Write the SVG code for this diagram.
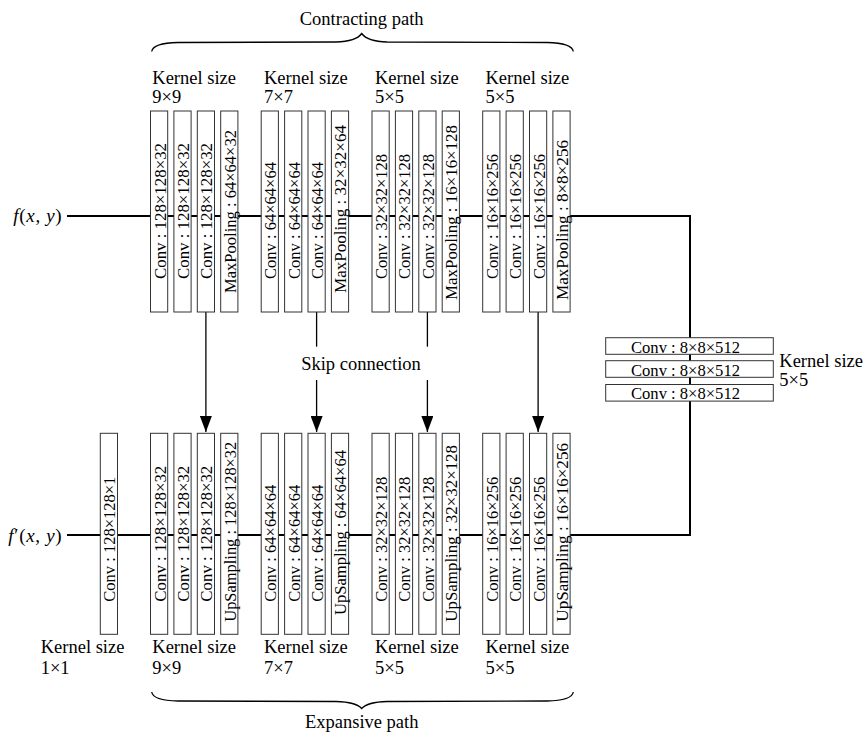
<svg xmlns="http://www.w3.org/2000/svg" width="865" height="732" viewBox="0 0 865 732">
<defs>
<style>
text{font-family:"Liberation Serif","Times New Roman",serif;fill:#000}
.lbl{font-size:18.5px}
.bx{fill:#fff;stroke:#333;stroke-width:1}
.bt{font-size:17px}
.main{fill:none;stroke:#000;stroke-width:2}
.skip{fill:none;stroke:#000;stroke-width:1.3}
.brace{fill:none;stroke:#000;stroke-width:1.3}
.it{font-style:italic}
</style>
<marker id="ah" markerUnits="userSpaceOnUse" markerWidth="16" markerHeight="12" refX="16" refY="6" orient="auto">
<path d="M0,0 L16,6 L0,12 z" fill="#000"/>
</marker>
</defs>
<rect width="865" height="732" fill="#fff"/>

<g id="connectors">
<path class="main" d="M67,216 H690 V535 H67"/>
<path class="skip" d="M205.9,312 V432" marker-end="url(#ah)"/>
<path class="skip" d="M316.6,312 V346.7"/>
<path class="skip" d="M316.6,380 V432" marker-end="url(#ah)"/>
<path class="skip" d="M427.4,312 V346.7"/>
<path class="skip" d="M427.4,380 V432" marker-end="url(#ah)"/>
<path class="skip" d="M538.1,312 V432" marker-end="url(#ah)"/>
</g>

<g id="labels">
<text class="lbl" x="361.7" y="25" text-anchor="middle">Contracting path</text>
<path class="brace" d="M151.7,51.5 Q153,43 178,42.5 L336,42 Q356,41.5 361.7,33.5 Q367.5,41.5 387,42 L547,42.5 Q572,43 573.3,51.5"/>
<text class="lbl" x="361.7" y="727.5" text-anchor="middle">Expansive path</text>
<path class="brace" d="M151.7,692 Q153,700.5 178,701 L336,701.5 Q356,702 361.7,708.5 Q367.5,702 387,701.5 L547,701 Q572,700.5 573.3,692"/>
<text class="lbl" x="361" y="370" text-anchor="middle">Skip connection</text>
<text x="13.3" y="221.5" font-size="19" textLength="48.4" lengthAdjust="spacing"><tspan class="it">f</tspan>(<tspan class="it">x</tspan>, <tspan class="it">y</tspan>)</text>
<text x="8.3" y="541.5" font-size="19" textLength="53.4" lengthAdjust="spacing"><tspan class="it">f</tspan>′(<tspan class="it">x</tspan>, <tspan class="it">y</tspan>)</text>
<text class="lbl" x="152.3" y="84.3">Kernel size</text><text class="lbl" x="152.3" y="103.3">9×9</text>
<text class="lbl" x="264" y="84.3">Kernel size</text><text class="lbl" x="264" y="103.3">7×7</text>
<text class="lbl" x="375" y="84.3">Kernel size</text><text class="lbl" x="375" y="103.3">5×5</text>
<text class="lbl" x="485.5" y="84.3">Kernel size</text><text class="lbl" x="485.5" y="103.3">5×5</text>
<text class="lbl" x="152.3" y="653.3">Kernel size</text><text class="lbl" x="152.3" y="674">9×9</text>
<text class="lbl" x="264" y="653.3">Kernel size</text><text class="lbl" x="264" y="674">7×7</text>
<text class="lbl" x="375" y="653.3">Kernel size</text><text class="lbl" x="375" y="674">5×5</text>
<text class="lbl" x="485.5" y="653.3">Kernel size</text><text class="lbl" x="485.5" y="674">5×5</text>
<text class="lbl" x="40.7" y="653.3">Kernel size</text><text class="lbl" x="40.7" y="674">1×1</text>
<text class="lbl" x="779.3" y="366.5">Kernel size</text><text class="lbl" x="779.3" y="385.5">5×5</text>
</g>

<!-- top row -->
<g id="e1c1"><rect class="bx" x="150.5" y="111" width="17.2" height="201"/><text class="bt" transform="translate(159.1,279) rotate(-90)" dy="0.38em" textLength="136" lengthAdjust="spacingAndGlyphs">Conv : 128×128×32</text></g>
<g id="e1c2"><rect class="bx" x="173.9" y="111" width="17.2" height="201"/><text class="bt" transform="translate(182.5,279) rotate(-90)" dy="0.38em" textLength="136" lengthAdjust="spacingAndGlyphs">Conv : 128×128×32</text></g>
<g id="e1c3"><rect class="bx" x="197.3" y="111" width="17.2" height="201"/><text class="bt" transform="translate(205.9,279) rotate(-90)" dy="0.38em" textLength="136" lengthAdjust="spacingAndGlyphs">Conv : 128×128×32</text></g>
<g id="e1p"><rect class="bx" x="220.7" y="111" width="17.2" height="201"/><text class="bt" transform="translate(229.3,293) rotate(-90)" dy="0.38em" textLength="163" lengthAdjust="spacingAndGlyphs">MaxPooling : 64×64×32</text></g>

<g id="e2c1"><rect class="bx" x="261.2" y="111" width="17.2" height="201"/><text class="bt" transform="translate(269.8,279) rotate(-90)" dy="0.38em" textLength="117" lengthAdjust="spacingAndGlyphs">Conv : 64×64×64</text></g>
<g id="e2c2"><rect class="bx" x="284.6" y="111" width="17.2" height="201"/><text class="bt" transform="translate(293.2,279) rotate(-90)" dy="0.38em" textLength="117" lengthAdjust="spacingAndGlyphs">Conv : 64×64×64</text></g>
<g id="e2c3"><rect class="bx" x="308" y="111" width="17.2" height="201"/><text class="bt" transform="translate(316.6,279) rotate(-90)" dy="0.38em" textLength="117" lengthAdjust="spacingAndGlyphs">Conv : 64×64×64</text></g>
<g id="e2p"><rect class="bx" x="331.4" y="111" width="17.2" height="201"/><text class="bt" transform="translate(340,293) rotate(-90)" dy="0.38em" textLength="168" lengthAdjust="spacingAndGlyphs">MaxPooling : 32×32×64</text></g>

<g id="e3c1"><rect class="bx" x="372" y="111" width="17.2" height="201"/><text class="bt" transform="translate(380.6,279) rotate(-90)" dy="0.38em" textLength="125" lengthAdjust="spacingAndGlyphs">Conv : 32×32×128</text></g>
<g id="e3c2"><rect class="bx" x="395.4" y="111" width="17.2" height="201"/><text class="bt" transform="translate(404,279) rotate(-90)" dy="0.38em" textLength="125" lengthAdjust="spacingAndGlyphs">Conv : 32×32×128</text></g>
<g id="e3c3"><rect class="bx" x="418.8" y="111" width="17.2" height="201"/><text class="bt" transform="translate(427.4,279) rotate(-90)" dy="0.38em" textLength="125" lengthAdjust="spacingAndGlyphs">Conv : 32×32×128</text></g>
<g id="e3p"><rect class="bx" x="442.2" y="111" width="17.2" height="201"/><text class="bt" transform="translate(450.8,300) rotate(-90)" dy="0.38em" textLength="175" lengthAdjust="spacingAndGlyphs">MaxPooling : 16×16×128</text></g>

<g id="e4c1"><rect class="bx" x="482.7" y="111" width="17.2" height="201"/><text class="bt" transform="translate(491.3,279) rotate(-90)" dy="0.38em" textLength="125" lengthAdjust="spacingAndGlyphs">Conv : 16×16×256</text></g>
<g id="e4c2"><rect class="bx" x="506.1" y="111" width="17.2" height="201"/><text class="bt" transform="translate(514.7,279) rotate(-90)" dy="0.38em" textLength="125" lengthAdjust="spacingAndGlyphs">Conv : 16×16×256</text></g>
<g id="e4c3"><rect class="bx" x="529.5" y="111" width="17.2" height="201"/><text class="bt" transform="translate(538.1,279) rotate(-90)" dy="0.38em" textLength="125" lengthAdjust="spacingAndGlyphs">Conv : 16×16×256</text></g>
<g id="e4p"><rect class="bx" x="552.9" y="111" width="17.2" height="201"/><text class="bt" transform="translate(561.5,300) rotate(-90)" dy="0.38em" textLength="160" lengthAdjust="spacingAndGlyphs">MaxPooling : 8×8×256</text></g>

<!-- bottleneck -->
<g id="b1"><rect class="bx" x="605.7" y="337.7" width="167.6" height="16.6"/><text class="bt" x="685.5" y="352.5" text-anchor="middle" textLength="109" lengthAdjust="spacingAndGlyphs">Conv : 8×8×512</text></g>
<g id="b2"><rect class="bx" x="605.7" y="360.7" width="167.6" height="16.6"/><text class="bt" x="685.5" y="375.5" text-anchor="middle" textLength="109" lengthAdjust="spacingAndGlyphs">Conv : 8×8×512</text></g>
<g id="b3"><rect class="bx" x="605.7" y="384.5" width="167.6" height="16.6"/><text class="bt" x="685.5" y="399.3" text-anchor="middle" textLength="109" lengthAdjust="spacingAndGlyphs">Conv : 8×8×512</text></g>

<!-- bottom row -->
<g id="out"><rect class="bx" x="100.3" y="433.3" width="17.2" height="201"/><text class="bt" transform="translate(108.9,601.7) rotate(-90)" dy="0.38em" textLength="125" lengthAdjust="spacingAndGlyphs">Conv : 128×128×1</text></g>

<g id="d1c1"><rect class="bx" x="150.5" y="433.3" width="17.2" height="201"/><text class="bt" transform="translate(159.1,601.7) rotate(-90)" dy="0.38em" textLength="136" lengthAdjust="spacingAndGlyphs">Conv : 128×128×32</text></g>
<g id="d1c2"><rect class="bx" x="173.9" y="433.3" width="17.2" height="201"/><text class="bt" transform="translate(182.5,601.7) rotate(-90)" dy="0.38em" textLength="136" lengthAdjust="spacingAndGlyphs">Conv : 128×128×32</text></g>
<g id="d1c3"><rect class="bx" x="197.3" y="433.3" width="17.2" height="201"/><text class="bt" transform="translate(205.9,601.7) rotate(-90)" dy="0.38em" textLength="136" lengthAdjust="spacingAndGlyphs">Conv : 128×128×32</text></g>
<g id="d1u"><rect class="bx" x="220.7" y="433.3" width="17.2" height="201"/><text class="bt" transform="translate(229.3,621.7) rotate(-90)" dy="0.38em" textLength="180" lengthAdjust="spacingAndGlyphs">UpSampling : 128×128×32</text></g>

<g id="d2c1"><rect class="bx" x="261.2" y="433.3" width="17.2" height="201"/><text class="bt" transform="translate(269.8,601.7) rotate(-90)" dy="0.38em" textLength="117" lengthAdjust="spacingAndGlyphs">Conv : 64×64×64</text></g>
<g id="d2c2"><rect class="bx" x="284.6" y="433.3" width="17.2" height="201"/><text class="bt" transform="translate(293.2,601.7) rotate(-90)" dy="0.38em" textLength="117" lengthAdjust="spacingAndGlyphs">Conv : 64×64×64</text></g>
<g id="d2c3"><rect class="bx" x="308" y="433.3" width="17.2" height="201"/><text class="bt" transform="translate(316.6,601.7) rotate(-90)" dy="0.38em" textLength="117" lengthAdjust="spacingAndGlyphs">Conv : 64×64×64</text></g>
<g id="d2u"><rect class="bx" x="331.4" y="433.3" width="17.2" height="201"/><text class="bt" transform="translate(340,615) rotate(-90)" dy="0.38em" textLength="165" lengthAdjust="spacingAndGlyphs">UpSampling : 64×64×64</text></g>

<g id="d3c1"><rect class="bx" x="372" y="433.3" width="17.2" height="201"/><text class="bt" transform="translate(380.6,601.7) rotate(-90)" dy="0.38em" textLength="125" lengthAdjust="spacingAndGlyphs">Conv : 32×32×128</text></g>
<g id="d3c2"><rect class="bx" x="395.4" y="433.3" width="17.2" height="201"/><text class="bt" transform="translate(404,601.7) rotate(-90)" dy="0.38em" textLength="125" lengthAdjust="spacingAndGlyphs">Conv : 32×32×128</text></g>
<g id="d3c3"><rect class="bx" x="418.8" y="433.3" width="17.2" height="201"/><text class="bt" transform="translate(427.4,601.7) rotate(-90)" dy="0.38em" textLength="125" lengthAdjust="spacingAndGlyphs">Conv : 32×32×128</text></g>
<g id="d3u"><rect class="bx" x="442.2" y="433.3" width="17.2" height="201"/><text class="bt" transform="translate(450.8,621.7) rotate(-90)" dy="0.38em" textLength="176.7" lengthAdjust="spacingAndGlyphs">UpSampling : 32×32×128</text></g>

<g id="d4c1"><rect class="bx" x="482.7" y="433.3" width="17.2" height="201"/><text class="bt" transform="translate(491.3,601.7) rotate(-90)" dy="0.38em" textLength="125" lengthAdjust="spacingAndGlyphs">Conv : 16×16×256</text></g>
<g id="d4c2"><rect class="bx" x="506.1" y="433.3" width="17.2" height="201"/><text class="bt" transform="translate(514.7,601.7) rotate(-90)" dy="0.38em" textLength="125" lengthAdjust="spacingAndGlyphs">Conv : 16×16×256</text></g>
<g id="d4c3"><rect class="bx" x="529.5" y="433.3" width="17.2" height="201"/><text class="bt" transform="translate(538.1,601.7) rotate(-90)" dy="0.38em" textLength="125" lengthAdjust="spacingAndGlyphs">Conv : 16×16×256</text></g>
<g id="d4u"><rect class="bx" x="552.9" y="433.3" width="17.2" height="201"/><text class="bt" transform="translate(561.5,621.7) rotate(-90)" dy="0.38em" textLength="178.7" lengthAdjust="spacingAndGlyphs">UpSampling : 16×16×256</text></g>
</svg>
